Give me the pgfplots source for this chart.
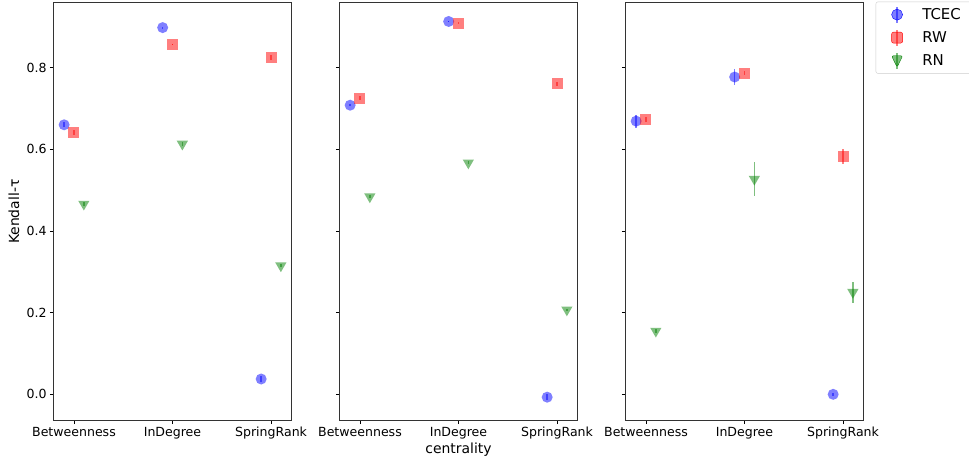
\documentclass[border=0pt]{standalone}
\usepackage{fontspec}
\setmainfont{DejaVu Sans}
\usepackage{pgfplots}
\pgfplotsset{compat=1.18}
\definecolor{mplblue}{rgb}{0,0,1}
\definecolor{mplred}{rgb}{1,0,0}
\definecolor{mplgreen}{rgb}{0,0.5,0}
\pgfplotsset{
  panel/.style={
    scale only axis, width=238.4bp, height=418bp,
    xmin=-0.21, xmax=2.21, ymin=-0.0646, ymax=0.959,
    xtick={0,1,2}, xticklabels={Betweenness,InDegree,SpringRank},
    ytick={0,0.2,0.4,0.6,0.8},
    tick align=outside, tick pos=left,
    major tick length=3.5bp,
    every tick/.style={black, line width=0.8bp},
    axis line style={black!80, line width=0.8bp},
    tick label style={font=\fontsize{12.6}{15}\selectfont},
    xticklabel style={inner sep=2.5bp},
    yticklabel style={inner xsep=3bp},
    /pgf/number format/fixed, /pgf/number format/fixed zerofill,
    /pgf/number format/precision=1, /pgf/number format/assume math mode=true,
  },
  tcec/.style={only marks, color=mplblue, mark=*, mark size=5.5bp,
    mark options={draw opacity=0, fill=mplblue, fill opacity=0.5},
    error bars/y dir=both, error bars/y explicit, error bars/error mark=none,
    error bars/error bar style={mplblue, draw opacity=0.5, line width=1.5bp},
    legend image code/.code={
      \path (0bp,0bp) (34bp,0bp);
      \draw[mplblue, draw opacity=0.5, line width=1.5bp] (11bp,-8bp) -- (11bp,8bp);
      \fill[mplblue, fill opacity=0.5] (11bp,0bp) circle (5.5bp);}},
  rw/.style={only marks, color=mplred, mark=square*, mark size=5.5bp,
    mark options={draw opacity=0, fill=mplred, fill opacity=0.5},
    error bars/y dir=both, error bars/y explicit, error bars/error mark=none,
    error bars/error bar style={mplred, draw opacity=0.5, line width=1.5bp},
    legend image code/.code={
      \path (0bp,0bp) (34bp,0bp);
      \draw[mplred, draw opacity=0.5, line width=1.5bp] (11bp,-8bp) -- (11bp,8bp);
      \fill[mplred, fill opacity=0.5] (5.5bp,-5.5bp) rectangle (16.5bp,5.5bp);}},
  rn/.style={only marks, color=mplgreen, mark=triangle*, mark size=6.5bp,
    mark options={draw opacity=0, fill=mplgreen, fill opacity=0.5, rotate=180},
    error bars/y dir=both, error bars/y explicit, error bars/error mark=none,
    error bars/error bar style={mplgreen, draw opacity=0.5, line width=1.5bp},
    legend image code/.code={
      \path (0bp,0bp) (34bp,0bp);
      \draw[mplgreen, draw opacity=0.5, line width=1.5bp] (11bp,-8bp) -- (11bp,8bp);
      \fill[mplgreen, fill opacity=0.5] (5.4bp,4.9bp) -- (16.6bp,4.9bp) -- (11bp,-6.5bp) -- cycle;}},
}
\begin{document}
\begin{tikzpicture}
% Panel 1
\begin{axis}[panel, at={(53.3bp,35.3bp)}, anchor=south west,
  ylabel={Kendall-τ},
  every axis y label/.style={at={(axis description cs:0,0.5)}, xshift=-39.3bp, rotate=90, anchor=center, font=\fontsize{14}{17}\selectfont},
]
\addplot[tcec] coordinates {(-0.1,0.660) +- (0,0.006) (0.9,0.898) +- (0,0.002) (1.9,0.0375) +- (0,0.008)};
\addplot[rw] coordinates {(0,0.642) +- (0,0.006) (1,0.857) +- (0,0.002) (2,0.825) +- (0,0.006)};
\addplot[rn] coordinates {(0.1,0.466) +- (0,0.004) (1.1,0.613) +- (0,0.004) (2.1,0.315) +- (0,0.004)};
\end{axis}
% Panel 2
\begin{axis}[panel, at={(339.3bp,35.3bp)}, anchor=south west,
  yticklabels={},
  xlabel={centrality},
  xlabel style={at={(axis description cs:0.5,0)}, anchor=base, yshift=-32.5bp, font=\fontsize{14}{17}\selectfont},
]
\addplot[tcec] coordinates {(-0.1,0.708) +- (0,0.002) (0.9,0.913) +- (0,0.002) (1.9,-0.007) +- (0,0.008)};
\addplot[rw] coordinates {(0,0.725) +- (0,0.005) (1,0.909) +- (0,0.002) (2,0.760) +- (0,0.006)};
\addplot[rn] coordinates {(0.1,0.484) +- (0,0.003) (1.1,0.567) +- (0,0.004) (2.1,0.207) +- (0,0.003)};
\end{axis}
% Panel 3
\begin{axis}[panel, at={(625.3bp,35.3bp)}, anchor=south west,
  yticklabels={},
  legend style={at={(1,1)}, anchor=north west, xshift=12bp, yshift=1bp,
    draw=black!20, rounded corners=2bp, fill=white,
    font=\fontsize{15}{18}\selectfont, row sep=5.5bp, inner xsep=10bp, inner ysep=4bp},
  legend cell align=left,
]
\addplot[tcec] coordinates {(-0.1,0.669) +- (0,0.016) (0.9,0.777) +- (0,0.020) (1.9,0.000) +- (0,0.003)};
\addlegendentry{TCEC}
\addplot[rw] coordinates {(0,0.673) +- (0,0.005) (1,0.786) +- (0,0.005) (2,0.583) +- (0,0.018)};
\addlegendentry{RW}
\addplot[rn] coordinates {(0.1,0.155) +- (0,0.004) (1.1,0.527) +- (0,0.042) (2.1,0.250) +- (0,0.026)};
\addlegendentry{RN}
\end{axis}
\pgfresetboundingbox
\useasboundingbox (0,0) rectangle (969bp,456bp);
\end{tikzpicture}
\end{document}
